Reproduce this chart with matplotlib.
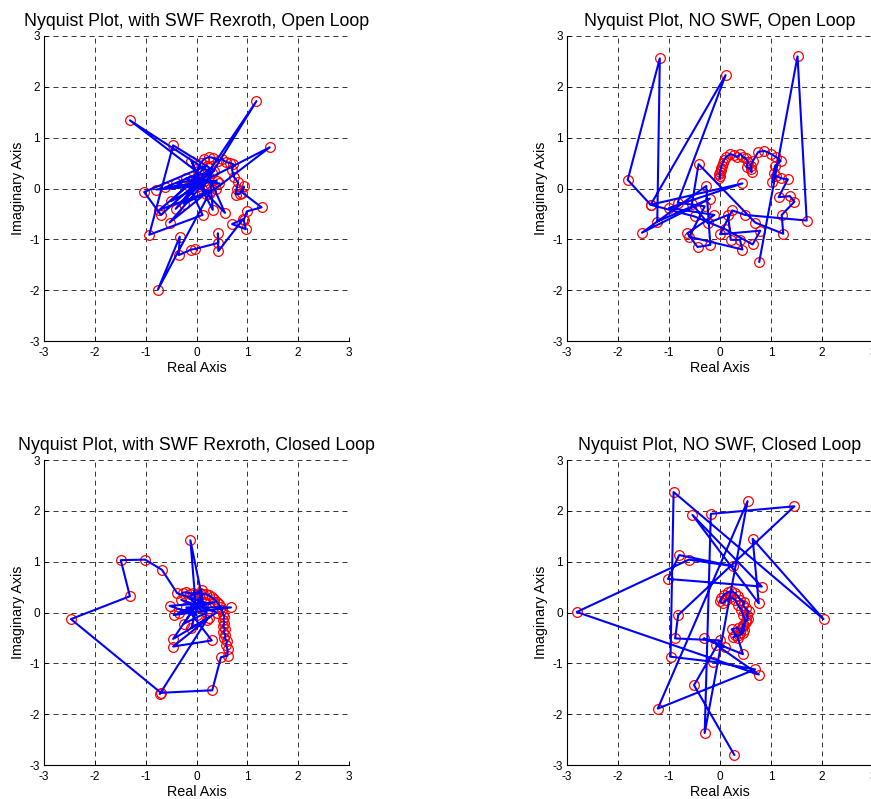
import numpy as np
import matplotlib
matplotlib.use("Agg")
import matplotlib.pyplot as plt

plt.rcParams['font.family'] = ['Liberation Sans', 'DejaVu Sans']
plt.rcParams['lines.scale_dashes'] = False
plt.rcParams['axes.unicode_minus'] = False

# frequency response points (real, imag) for each test
ol_swf = [
    (0.02, 0.35), (0.08, 0.5), (0.15, 0.58), (0.25, 0.62), (0.33, 0.6), (0.42, 0.55),
    (0.5, 0.58), (0.58, 0.52), (0.66, 0.5), (0.72, 0.48), (0.7, 0.36), (0.74, 0.22),
    (0.82, 0.12), (0.79, 0.0), (0.77, -0.12), (0.85, -0.1), (0.93, 0.04), (0.9, -0.08),
    (1.28, -0.37), (0.99, -0.45), (0.93, -0.62), (0.97, -0.8), (0.7, -0.7), (0.92, -0.6),
    (0.43, -1.23), (0.42, -0.88), (0.43, -1.07), (-0.03, -1.19), (-0.1, -1.2), (-0.35, -1.31),
    (-0.33, -0.95), (-0.76, -1.99), (0.25, -0.1), (-0.2, 0.2), (0.35, 0.35), (-0.46, 0.85),
    (-0.93, -0.91), (0.12, -0.52), (-0.15, 0.05), (0.3, 0.3), (-1.31, 1.34), (0.05, 0.3),
    (-0.62, 0.02), (0.4, 0.15), (-0.79, -0.02), (0.15, 0.05), (1.18, 1.72), (0.05, 0.05),
    (-0.5, -0.25), (0.2, 0.45), (-1.03, -0.07), (-0.7, -0.52), (0.1, 0.2), (-0.4, 0.1),
    (0.28, -0.05), (-0.73, -0.42), (0.0, 0.2), (-0.25, -0.3), (0.38, 0.0), (1.44, 0.81),
    (0.15, 0.15), (-0.41, -0.4), (0.25, 0.4), (0.32, -0.42), (0.1, 0.0), (0.56, -0.48),
    (0.25, 0.22), (-0.53, -0.67), (0.18, -0.1), (-0.1, 0.55), (0.05, 0.15), (0.45, 0.1),
]

ol_noswf = [
    (-0.01, 0.2), (0.0, 0.24), (-0.01, 0.28), (0.0, 0.32), (0.01, 0.36), (0.02, 0.4),
    (0.03, 0.45), (0.05, 0.5), (0.08, 0.56), (0.12, 0.62), (0.2, 0.68), (0.28, 0.65),
    (0.33, 0.62), (0.4, 0.68), (0.45, 0.62), (0.5, 0.6), (0.55, 0.52), (0.52, 0.42),
    (0.6, 0.38), (0.62, 0.32), (0.6, 0.45), (0.65, 0.55), (0.75, 0.72), (0.87, 0.74),
    (1.0, 0.68), (1.1, 0.62), (1.19, 0.54), (1.08, 0.45), (1.05, 0.3), (1.02, 0.12),
    (1.1, 0.25), (1.2, 0.2), (1.33, 0.18), (1.15, -0.17), (1.37, -0.15), (1.46, -0.26),
    (1.21, -0.52), (1.24, -0.89), (0.69, -0.67), (-0.42, 0.48), (-0.55, -0.3), (-0.24, -0.68),
    (0.16, -0.52), (0.21, -1.01), (0.39, -1.01), (0.44, -1.2), (-0.6, -0.95), (-0.3, -0.35),
    (-0.83, -0.28), (0.11, 2.23), (-1.36, -0.32), (0.44, 0.1), (-1.0, -0.38), (-0.11, -0.52),
    (-0.64, -0.88), (-0.44, -1.15), (-0.19, -1.11), (-0.27, 0.05), (-1.53, -0.87), (-0.2, -0.2),
    (-1.23, -0.65), (-1.18, 2.56), (-1.81, 0.17), (-1.36, -0.32), (-0.5, -0.55), (0.1, -0.8),
    (0.64, -1.1), (0.79, -0.83), (0.0, -0.9), (0.24, -0.43), (0.49, -0.52), (1.7, -0.63),
    (1.52, 2.6), (0.77, -1.44),
]

cl_swf = [
    (-0.72, -1.6), (0.2, -0.15), (-0.12, 1.42), (0.0, -0.05), (-0.53, 0.13), (0.35, 0.2),
    (-0.45, -0.05), (0.68, 0.1), (-0.2, 0.1), (0.3, -0.55), (-0.46, -0.67), (0.25, -0.1),
    (-0.46, -0.52), (0.1, 0.3), (-0.25, -0.22), (0.2, 0.0), (-0.3, 0.25), (0.4, 0.0),
    (-0.1, -0.3), (0.1, 0.45), (-0.15, 0.3), (0.05, 0.1), (-0.35, 0.0), (0.15, 0.2),
    (-0.38, 0.38), (-0.68, 0.84), (-1.01, 1.04), (-1.49, 1.03), (-1.31, 0.32), (-2.47, -0.13),
    (-0.7, -1.58), (0.31, -1.53), (0.48, -0.88), (0.61, -0.85), (0.61, -0.72), (0.58, -0.64),
    (0.6, -0.56), (0.55, -0.5), (0.57, -0.44), (0.53, -0.38), (0.56, -0.32), (0.52, -0.26),
    (0.55, -0.2), (0.53, -0.14), (0.55, -0.08), (0.52, -0.02), (0.5, 0.04), (0.48, 0.1),
    (0.44, 0.16), (0.4, 0.21), (0.35, 0.26), (0.3, 0.3), (0.24, 0.34), (0.18, 0.37),
    (0.12, 0.36), (0.06, 0.38), (0.0, 0.36), (-0.06, 0.38), (-0.12, 0.37), (-0.2, 0.4),
    (-0.27, 0.39),
]

cl_noswf = [
    (0.26, -0.49), (0.3, -0.45), (0.38, -0.45), (0.45, -0.4), (0.42, -0.32), (0.48, -0.25),
    (0.5, -0.18), (0.55, -0.12), (0.52, -0.05), (0.56, 0.02), (0.5, 0.08), (0.45, 0.15),
    (0.48, 0.2), (0.4, 0.25), (0.35, 0.32), (0.3, 0.38), (0.22, 0.42), (0.15, 0.4),
    (0.08, 0.35), (0.02, 0.28), (0.0, 0.22), (0.05, 0.18), (0.12, 0.24), (0.2, 0.3),
    (0.3, 0.25), (0.35, 0.15), (0.42, 0.05), (0.45, -0.05), (0.5, -0.15), (0.45, -0.25),
    (0.48, -0.35), (0.4, -0.4), (0.35, -0.3), (0.23, -0.33), (0.35, -0.5), (0.45, -0.82),
    (-0.32, -0.51), (0.1, -0.68), (-0.07, -0.64), (0.76, -1.22), (-2.81, 0.01), (-0.61, 1.04),
    (0.26, 0.91), (-0.8, 1.13), (-1.02, 0.66), (0.82, 0.51), (-0.54, 1.92), (0.76, 0.18),
    (0.64, 1.45), (2.03, -0.13), (-0.91, 2.37), (-0.97, -0.87), (-0.13, -0.97), (0.69, -1.12),
    (-1.22, -1.89), (0.54, 2.19), (-0.3, -2.37), (-0.18, 1.94), (1.46, 2.09), (-0.82, -0.05),
    (-0.88, -0.51), (0.0, -0.55), (-0.51, -1.43), (0.28, -2.8),
]

titles = [
    'Nyquist Plot, with SWF Rexroth, Open Loop',
    'Nyquist Plot, NO SWF, Open Loop',
    'Nyquist Plot, with SWF Rexroth, Closed Loop',
    'Nyquist Plot, NO SWF, Closed Loop',
]
datasets = [ol_swf, ol_noswf, cl_swf, cl_noswf]

W, H = 871, 799
# axes boxes in pixels: left, top, right, bottom
boxes = [(44, 36, 349, 341), (567, 36, 873, 341),
         (44, 460, 349, 765), (567, 460, 873, 765)]

fig = plt.figure(figsize=(W / 100, H / 100), dpi=100)

for box, data, title in zip(boxes, datasets, titles):
    l, t, r, b = box
    ax = fig.add_axes([l / W, 1 - b / H, (r - l) / W, (b - t) / H])
    pts = np.array(data)
    ax.plot(pts[:, 0], pts[:, 1], 'o', mfc='none', mec='red', ms=7, mew=0.9)
    ax.plot(pts[:, 0], pts[:, 1], '-', color='#0000ff', lw=1.5)
    ax.set_xlim(-3, 3)
    ax.set_ylim(-3, 3)
    ax.set_xticks(range(-3, 4))
    ax.set_yticks(range(-3, 4))
    ax.grid(True, color='#333333', linestyle=(0, (3.6, 2.9)), linewidth=0.7)
    ax.set_axisbelow(True)
    for s in ['top', 'right']:
        ax.spines[s].set_visible(False)
    for s in ['left', 'bottom']:
        ax.spines[s].set_linewidth(0.8)
    ax.tick_params(direction='in', length=3, width=0.7, labelsize=8.5)
    ax.tick_params(axis='x', pad=4)
    ax.tick_params(axis='y', pad=3)
    ax.set_title(title, fontsize=12.8, pad=7)
    ax.set_xlabel('Real Axis', fontsize=10.3, labelpad=2)
    ax.set_ylabel('Imaginary Axis', fontsize=10.3, labelpad=3)

fig.savefig('out.png', dpi=100)
